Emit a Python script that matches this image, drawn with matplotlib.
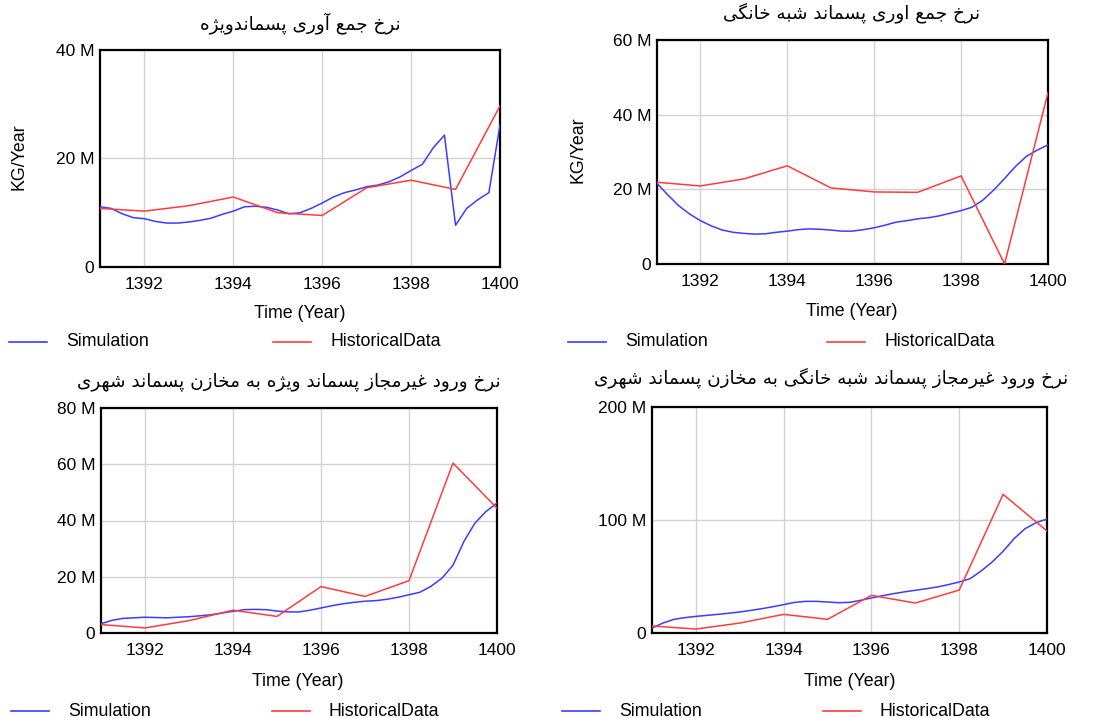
import matplotlib
matplotlib.use("Agg")
import matplotlib.pyplot as plt
from matplotlib.lines import Line2D
from matplotlib.ticker import FuncFormatter

# ---------------- data (values in millions KG/Year) ----------------
years = [1391, 1392, 1393, 1394, 1395, 1396, 1397, 1398, 1399, 1400]
sim_t = [1391 + 0.25 * i for i in range(37)]

hist1 = [10.8, 10.3, 11.3, 12.9, 10.0, 9.5, 14.6, 16.0, 14.3, 29.7]
sim1 = [11.1, 10.8, 9.8, 9.1, 8.9, 8.4, 8.1, 8.1, 8.3, 8.6, 9.0, 9.7, 10.3,
        11.1, 11.2, 11.0, 10.5, 9.8, 10.0, 10.8, 11.8, 12.9, 13.7, 14.2, 14.8,
        15.1, 15.7, 16.6, 17.8, 18.9, 22.0, 24.3, 7.7, 10.8, 12.4, 13.7, 26.2]

hist2 = [21.9, 20.9, 22.8, 26.3, 20.4, 19.3, 19.2, 23.6, 0.0, 45.9]
sim2 = [21.6, 18.5, 15.6, 13.4, 11.6, 10.2, 9.1, 8.5, 8.2, 8.0, 8.1, 8.5, 8.8,
        9.2, 9.4, 9.3, 9.1, 8.8, 8.8, 9.2, 9.7, 10.4, 11.2, 11.6, 12.1, 12.4,
        12.9, 13.6, 14.3, 15.2, 17.1, 19.8, 22.9, 26.1, 28.8, 30.5, 31.9]

hist3 = [3.0, 1.8, 4.4, 8.1, 5.9, 16.5, 13.0, 18.6, 60.4, 44.4]
sim3 = [3.3, 4.5, 5.2, 5.4, 5.6, 5.5, 5.4, 5.6, 5.8, 6.1, 6.5, 7.1, 7.7, 8.3,
        8.4, 8.3, 7.8, 7.5, 7.5, 8.1, 8.9, 9.7, 10.4, 10.9, 11.3, 11.5, 12.0,
        12.7, 13.6, 14.5, 16.6, 19.5, 24.1, 32.6, 39.1, 43.2, 46.2]

hist4 = [6.2, 3.5, 8.8, 16.5, 12.1, 33.3, 26.5, 38.0, 122.7, 90.3]
sim4 = [4.4, 8.8, 12.1, 13.6, 14.7, 15.6, 16.5, 17.5, 18.6, 20.0, 21.5, 23.2,
        25.1, 27.1, 28.0, 28.0, 27.4, 26.8, 27.1, 28.9, 31.0, 33.0, 34.8, 36.4,
        37.8, 39.2, 40.7, 42.8, 45.1, 48.1, 54.9, 62.8, 72.3, 83.5, 92.3, 97.6,
        100.9]

titles = [
    "نرخ جمع آوری پسماندویژه",
    "نرخ جمع اوری پسماند شبه خانگی",
    "نرخ ورود غیرمجاز پسماند ویژه به مخازن پسماند شهری",
    "نرخ ورود غیرمجاز پسماند شبه خانگی به مخازن پسماند شهری",
]
y_max = [40, 60, 80, 200]
y_ticks = [[0, 20, 40], [0, 20, 40, 60], [0, 20, 40, 60, 80], [0, 100, 200]]
x_ticks = [1392, 1394, 1396, 1398, 1400]
series_names = ["Simulation", "HistoricalData"]

# ---------------- minimal Persian shaping ----------------
FORMS = {
    '\u0627': ('\uFE8D', '\uFE8E', None, None),
    '\u0622': ('\uFE81', '\uFE82', None, None),
    '\u062F': ('\uFEA9', '\uFEAA', None, None),
    '\u0630': ('\uFEAB', '\uFEAC', None, None),
    '\u0631': ('\uFEAD', '\uFEAE', None, None),
    '\u0632': ('\uFEAF', '\uFEB0', None, None),
    '\u0698': ('\uFB8A', '\uFB8B', None, None),
    '\u0648': ('\uFEED', '\uFEEE', None, None),
    '\u0628': ('\uFE8F', '\uFE90', '\uFE91', '\uFE92'),
    '\u067E': ('\uFB56', '\uFB57', '\uFB58', '\uFB59'),
    '\u062A': ('\uFE95', '\uFE96', '\uFE97', '\uFE98'),
    '\u062C': ('\uFE9D', '\uFE9E', '\uFE9F', '\uFEA0'),
    '\u062E': ('\uFEA5', '\uFEA6', '\uFEA7', '\uFEA8'),
    '\u0633': ('\uFEB1', '\uFEB2', '\uFEB3', '\uFEB4'),
    '\u0634': ('\uFEB5', '\uFEB6', '\uFEB7', '\uFEB8'),
    '\u0639': ('\uFEC9', '\uFECA', '\uFECB', '\uFECC'),
    '\u063A': ('\uFECD', '\uFECE', '\uFECF', '\uFED0'),
    '\u06AF': ('\uFB92', '\uFB93', '\uFB94', '\uFB95'),
    '\u06A9': ('\uFB8E', '\uFB8F', '\uFB90', '\uFB91'),
    '\u0644': ('\uFEDD', '\uFEDE', '\uFEDF', '\uFEE0'),
    '\u0645': ('\uFEE1', '\uFEE2', '\uFEE3', '\uFEE4'),
    '\u0646': ('\uFEE5', '\uFEE6', '\uFEE7', '\uFEE8'),
    '\u0647': ('\uFEE9', '\uFEEA', '\uFEEB', '\uFEEC'),
    '\u06CC': ('\uFBFC', '\uFBFD', '\uFBFE', '\uFBFF'),
    '\u064A': ('\uFEF1', '\uFEF2', '\uFEF3', '\uFEF4'),
}


def shape(text):
    out = []
    for i, c in enumerate(text):
        if c not in FORMS:
            out.append(c)
            continue
        iso, fin, ini, med = FORMS[c]
        prev = text[i - 1] if i > 0 else None
        nxt = text[i + 1] if i + 1 < len(text) else None
        jp = prev in FORMS and FORMS[prev][2] is not None
        jn = ini is not None and nxt in FORMS
        if jp and jn:
            out.append(med)
        elif jp:
            out.append(fin)
        elif jn:
            out.append(ini)
        else:
            out.append(iso)
    return ''.join(reversed(out))


# ---------------- figure ----------------
plt.rcParams['font.family'] = ['Liberation Sans', 'DejaVu Sans']
W, H = 1105, 718
fig = plt.figure(figsize=(W / 100, H / 100), dpi=100)

# axes boxes in pixels: left, top, right, bottom
boxes = [(100, 50, 500, 267), (657, 40, 1048, 264),
         (101, 408, 497, 633), (652, 407, 1047, 633)]
title_pos = [(300, 23), (852, 13), (289, 382), (831, 378)]
xlabel_pos = [(300, 313), (852, 311), (298, 682), (850, 681)]
ylabel_pos = [(19, 157), (578, 150), None, None]
legend_pos = [(9, 342, 273), (568, 342, 827), (11, 711, 272), (562, 711, 823)]

sims = [sim1, sim2, sim3, sim4]
hists = [hist1, hist2, hist3, hist4]
BLUE = '#3c3cff'
RED = '#ff3c3c'
fs_tick = 12.5
fs = 12.8


def fx(px):
    return px / W


def fy(py):
    return 1 - py / H


fmt = FuncFormatter(lambda v, p: "0" if v == 0 else f"{v:g} M")

for k in range(4):
    l, t, r, b = boxes[k]
    ax = fig.add_axes([fx(l), fy(b), fx(r) - fx(l), fy(t) - fy(b)])
    ax.plot(sim_t, sims[k], color=BLUE, lw=1.1, zorder=3)
    ax.plot(years, hists[k], color=RED, lw=1.1, zorder=3)
    ax.set_xlim(1391, 1400)
    ax.set_ylim(0, y_max[k])
    ax.set_xticks(x_ticks)
    ax.set_yticks(y_ticks[k])
    ax.yaxis.set_major_formatter(fmt)
    ax.grid(True, color='#d2d2d2', lw=1.0, zorder=0)
    ax.tick_params(length=0, labelsize=fs_tick)
    ax.tick_params(axis='x', pad=7)
    ax.tick_params(axis='y', pad=4)
    for s in ax.spines.values():
        s.set_linewidth(1.6)
        s.set_color('black')

    tx, ty = title_pos[k]
    fig.text(fx(tx), fy(ty), shape(titles[k]), ha='center', va='center',
             fontsize=13.2, family=['DejaVu Sans'])
    lx, ly = xlabel_pos[k]
    fig.text(fx(lx), fy(ly), "Time (Year)", ha='center', va='center', fontsize=fs)
    if ylabel_pos[k] is not None:
        yx, yy = ylabel_pos[k]
        fig.text(fx(yx), fy(yy), "KG/Year", ha='center', va='center',
                 rotation=90, fontsize=fs)

    x0, ly, x1 = legend_pos[k]
    for j, (xs, col) in enumerate(((x0, BLUE), (x1, RED))):
        fig.add_artist(Line2D([fx(xs), fx(xs + 38)], [fy(ly), fy(ly)],
                              color=col, lw=1.2, transform=fig.transFigure))
        fig.text(fx(xs + 57), fy(ly), series_names[j], ha='left', va='center',
                 fontsize=fs)

fig.savefig("out.png", dpi=100)
